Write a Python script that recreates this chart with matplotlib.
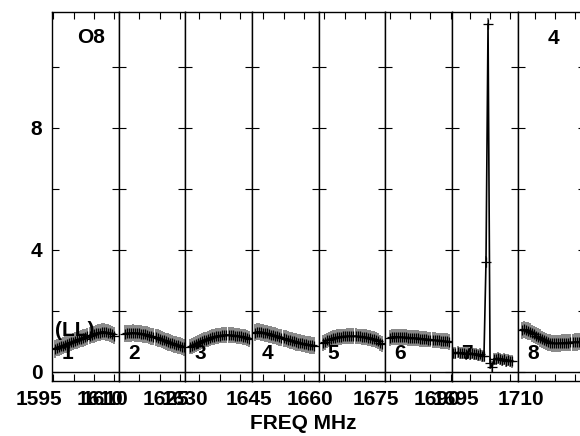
import numpy as np
import matplotlib
matplotlib.use('Agg')
import matplotlib.pyplot as plt
from matplotlib.transforms import ScaledTranslation

plt.rcParams['font.family'] = 'Liberation Sans'
plt.rcParams['font.weight'] = 'bold'

# frequency range of each IF panel (MHz)
panel_lo = [1594.68, 1609.93, 1626.56, 1642.22, 1658.60, 1673.85, 1690.58, 1705.99]
panel_hi = [1611.06, 1626.31, 1642.94, 1658.60, 1674.98, 1690.23, 1706.96, 1722.37]
chan_first = [1595.4, 1611.5, 1627.7, 1643.0, 1659.7, 1675.0, 1691.0, 1706.8]
chan_width = 0.5

label_freqs = [[1595, 1610], [1610, 1625], [1630], [1645], [1660], [1675, 1690], [1695], [1710]]

amp1 = [0.74, 0.78, 0.80, 0.83, 0.85, 0.88, 0.90, 0.93, 0.96, 0.98, 1.01, 1.03, 1.06, 1.08, 1.10,
        1.13, 1.15, 1.18, 1.20, 1.22, 1.25, 1.27, 1.28, 1.30, 1.30, 1.29, 1.27, 1.25, 1.22, 1.18]
amp2 = [1.24, 1.25, 1.26, 1.26, 1.27, 1.26, 1.26, 1.25, 1.24, 1.23, 1.22, 1.20, 1.18, 1.16, 1.14,
        1.12, 1.10, 1.07, 1.05, 1.02, 1.00, 0.97, 0.95, 0.92, 0.90, 0.88, 0.86, 0.84, 0.82, 0.80]
amp3 = [0.82, 0.85, 0.88, 0.91, 0.94, 0.97, 1.00, 1.03, 1.05, 1.08, 1.10, 1.12, 1.14, 1.16, 1.17,
        1.18, 1.19, 1.20, 1.20, 1.20, 1.19, 1.19, 1.18, 1.17, 1.16, 1.15, 1.14, 1.12, 1.10, 1.08]
amp4 = [1.28, 1.30, 1.30, 1.29, 1.28, 1.26, 1.25, 1.23, 1.21, 1.19, 1.17, 1.15, 1.13, 1.11, 1.09,
        1.07, 1.05, 1.03, 1.01, 0.99, 0.97, 0.95, 0.94, 0.92, 0.91, 0.89, 0.88, 0.87, 0.86, 0.85]
amp5 = [0.94, 0.98, 1.02, 1.05, 1.07, 1.09, 1.11, 1.12, 1.13, 1.14, 1.15, 1.15, 1.16, 1.16, 1.16,
        1.16, 1.16, 1.15, 1.15, 1.14, 1.13, 1.12, 1.11, 1.10, 1.08, 1.06, 1.03, 1.00, 0.95, 0.89]
amp6 = [1.10, 1.13, 1.14, 1.14, 1.14, 1.13, 1.13, 1.12, 1.12, 1.11, 1.11, 1.10, 1.10, 1.09, 1.09,
        1.08, 1.07, 1.07, 1.06, 1.05, 1.05, 1.04, 1.03, 1.02, 1.02, 1.01, 1.00, 0.99, 0.99, 0.98]
amp7 = [0.62, 0.60, 0.63, 0.61, 0.60, 0.62, 0.59, 0.60, 0.58, 0.60, 0.57, 0.58, 0.55, 0.56, 0.52,
        0.50, 3.60, 11.40, 0.28, 0.15, 0.42, 0.40, 0.44, 0.41, 0.38, 0.40, 0.36, 0.37, 0.34, 0.33]
amp8 = [1.35, 1.38, 1.36, 1.33, 1.30, 1.26, 1.22, 1.18, 1.14, 1.10, 1.06, 1.02, 0.99, 0.96, 0.94,
        0.93, 0.93, 0.92, 0.93, 0.93, 0.94, 0.94, 0.95, 0.95, 0.96, 0.96, 0.97, 0.97, 0.98, 0.98]
amps = [amp1, amp2, amp3, amp4, amp5, amp6, amp7, amp8]
amp_err = [0.28, 0.28, 0.26, 0.28, 0.26, 0.26, 0.2, 0.28]

fig, axes = plt.subplots(1, 8, sharey=True, figsize=(5.8, 4.36), dpi=100)
fig.subplots_adjust(left=52/580, right=585/580, top=1-11.7/436, bottom=1-380.7/436, wspace=0)

# the labels sit a little left of their ticks in the original plot
shift = ScaledTranslation(-0.14, 0, fig.dpi_scale_trans)

for i, ax in enumerate(axes):
    freqs = chan_first[i] + chan_width * np.arange(len(amps[i]))
    ax.errorbar(freqs, amps[i], yerr=amp_err[i], fmt='none', ecolor='0.45', elinewidth=1.2)
    ax.plot(freqs, amps[i], color='black', lw=1.2, marker='+', ms=7, mew=0.9)
    ax.axhline(0, color='black', lw=1)
    ax.set_xlim(panel_lo[i], panel_hi[i])
    ax.set_ylim(-0.3, 11.8)

    ticks = np.arange(np.ceil(panel_lo[i] / 5) * 5, panel_hi[i], 5)
    labels = [str(int(t)) if int(t) in label_freqs[i] else '' for t in ticks]
    ax.set_xticks(ticks, labels)
    ax.set_yticks([0, 2, 4, 6, 8, 10], ['0', '', '4', '', '8', ''])
    ax.tick_params(direction='in', top=True, right=True, length=5, width=0.8,
                   labelsize=15, pad=7)
    if i > 0:
        ax.tick_params(labelleft=False)
    for lab in ax.get_xticklabels():
        lab.set_transform(lab.get_transform() + shift)
    for sp in ax.spines.values():
        sp.set_linewidth(1.0)

    ax.text(0.14, 0.074, str(i + 1), transform=ax.transAxes, ha='left', va='center', fontsize=15)

axes[0].text(0.585, 0.931, 'O8', transform=axes[0].transAxes, ha='center', va='center', fontsize=15)
axes[0].text(0.045, 0.137, '(LL)', transform=axes[0].transAxes, ha='left', va='center', fontsize=15)
axes[7].text(0.53, 0.928, '4', transform=axes[7].transAxes, ha='center', va='center', fontsize=15)

fig.text(303/580, 1 - 423.5/436, 'FREQ MHz', ha='center', va='center', fontsize=15, fontweight='bold')

fig.savefig('out.png', dpi=100)
